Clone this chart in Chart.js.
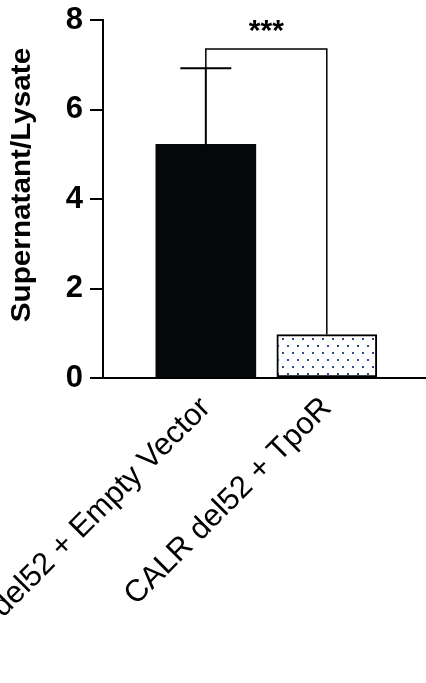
<!DOCTYPE html>
<html>
<head>
<meta charset="utf-8">
<script src="https://cdn.jsdelivr.net/npm/chart.js@4"></script>
<style>
  html, body { margin: 0; padding: 0; background: #fff; }
  #wrap { width: 426px; height: 683px; }
</style>
</head>
<body>
<div id="wrap"><canvas id="barChart" width="426" height="683"></canvas></div>
<script>
// data
const categories = ['CALR del52 + Empty Vector', 'CALR del52 + TpoR'];
const means = [5.22, 0.97];
const errorTop = [6.92, null];
const yTicks = [0, 2, 4, 6, 8];
const sigPair = [0, 1];
const sigLevel = 7.35;
const sigText = '***';
const yTitle = 'Supernatant/Lysate';

const FONT = "'Liberation Sans', Arial, Helvetica, sans-serif";

function dotPattern() {
    const c = document.createElement('canvas');
    c.width = 10;
    c.height = 14;
    const g = c.getContext('2d');
    g.fillStyle = '#fff';
    g.fillRect(0, 0, 10, 14);
    g.fillStyle = '#2b4c8f';
    g.fillRect(2, 2, 2, 2);
    g.fillRect(7, 9, 2, 2);
    return g.createPattern(c, 'repeat');
}

const annotations = {
    id: 'annotations',
    afterDatasetsDraw(chart) {
        const { ctx, scales: { x, y } } = chart;
        ctx.save();
        ctx.strokeStyle = '#000';
        ctx.lineWidth = 2;
        errorTop.forEach((top, i) => {
            if (top == null) return;
            const px = x.getPixelForValue(i);
            const y0 = y.getPixelForValue(means[i]);
            const y1 = y.getPixelForValue(top);
            ctx.beginPath();
            ctx.moveTo(px, y0);
            ctx.lineTo(px, y1);
            ctx.moveTo(px - 25.5, y1);
            ctx.lineTo(px + 25.5, y1);
            ctx.stroke();
        });

        // significance bracket
        const [a, b] = sigPair;
        const xa = x.getPixelForValue(a);
        const xb = x.getPixelForValue(b);
        const yTop = y.getPixelForValue(sigLevel);
        const ya = y.getPixelForValue(errorTop[a] != null ? errorTop[a] : means[a]);
        const yb = y.getPixelForValue(errorTop[b] != null ? errorTop[b] : means[b]);
        ctx.lineWidth = 1.5;
        ctx.beginPath();
        ctx.moveTo(xa, ya);
        ctx.lineTo(xa, yTop);
        ctx.lineTo(xb, yTop);
        ctx.lineTo(xb, yb);
        ctx.stroke();
        ctx.fillStyle = '#000';
        ctx.font = 'bold 30px ' + FONT;
        ctx.textAlign = 'center';
        ctx.textBaseline = 'alphabetic';
        ctx.fillText(sigText, (xa + xb) / 2, yTop - 9);

        // y axis title, a little wider than the plain font
        ctx.translate(29.5, 185);
        ctx.rotate(-Math.PI / 2);
        ctx.scale(1.1, 1);
        ctx.font = 'bold 27px ' + FONT;
        ctx.fillText(yTitle, 0, 0);
        ctx.restore();
    }
};

new Chart(document.getElementById('barChart'), {
    type: 'bar',
    data: {
        datasets: [{
            data: means.map((v, i) => ({ x: i, y: v })),
            backgroundColor: ['#050808', dotPattern()],
            borderColor: '#000',
            borderWidth: [0, 2],
            borderSkipped: false,
            barThickness: 100
        }]
    },
    options: {
        responsive: false,
        animation: false,
        layout: { padding: { top: 20, left: 0, right: 0, bottom: 0 } },
        plugins: { legend: { display: false }, tooltip: { enabled: false } },
        scales: {
            x: {
                type: 'linear',
                offset: false,
                min: -0.85,
                max: 1.82,
                grid: { display: false, drawTicks: false },
                border: { color: '#000', width: 2 },
                afterBuildTicks: (s) => { s.ticks = categories.map((c, i) => ({ value: i })); },
                afterFit: (s) => { s.height = 305; s.paddingLeft = 0; s.paddingRight = 0; },
                ticks: {
                    autoSkip: false,
                    minRotation: 45,
                    maxRotation: 45,
                    padding: 12,
                    color: '#000',
                    font: { family: FONT, size: 31 },
                    callback: (v) => categories[v]
                }
            },
            y: {
                min: 0,
                max: 8,
                afterBuildTicks: (s) => { s.ticks = yTicks.map(v => ({ value: v })); },
                afterFit: (s) => { s.width = 103; s.paddingTop = 0; s.paddingBottom = 0; },
                grid: {
                    drawOnChartArea: false,
                    drawTicks: true,
                    tickLength: 13,
                    tickColor: '#000',
                    lineWidth: 2
                },
                border: { color: '#000', width: 2 },
                ticks: {
                    padding: 7,
                    color: '#000',
                    font: { family: FONT, size: 31, weight: 'bold' }
                },
                title: { display: false }
            }
        }
    },
    plugins: [annotations]
});
</script>
</body>
</html>
